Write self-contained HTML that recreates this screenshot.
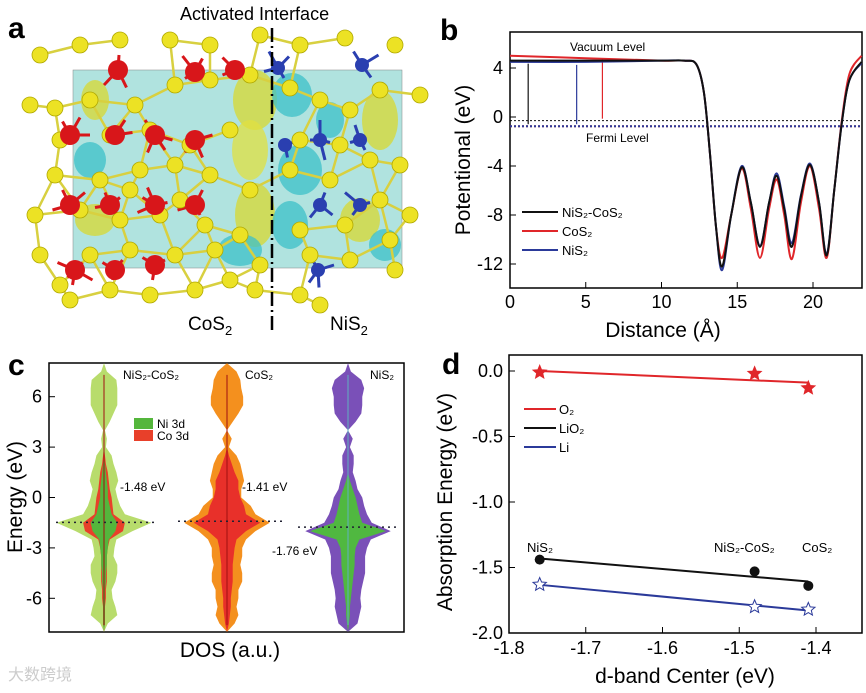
<!DOCTYPE html>
<html><head><meta charset="utf-8"><style>
body{margin:0;background:#fff;}
svg{display:block;font-family:"Liberation Sans","Noto Sans CJK SC",sans-serif;}
</style></head><body>
<svg id="fig" width="866" height="693" viewBox="0 0 866 693" xmlns="http://www.w3.org/2000/svg">
<g id="pa">
<text x="8" y="38" font-size="30" font-weight="bold">a</text>
<text x="180" y="20" font-size="18">Activated Interface</text>
<rect x="73" y="70" width="329" height="198" fill="#8fd8d2" opacity="0.7" stroke="#555" stroke-width="0.5"/>
<g id="blobs"></g>
<g id="bonds"></g>
<g id="atoms"></g>
<line x1="272" y1="28" x2="272" y2="330" stroke="#000" stroke-width="2.5" stroke-dasharray="14,4,2,4"/>
<text x="188" y="330" font-size="19">CoS<tspan font-size="13" dy="5">2</tspan></text>
<text x="330" y="330" font-size="19">NiS<tspan font-size="13" dy="5">2</tspan></text>
</g>
<g id="pb">
<text x="440" y="40" font-size="30" font-weight="bold">b</text>
</g>
<g id="pc">
<text x="8" y="375" font-size="30" font-weight="bold">c</text>
</g>
<g id="pd">
<text x="442" y="374" font-size="30" font-weight="bold">d</text>
</g>
<text x="8" y="680" font-size="16" fill="#ccc">大数跨境</text>
</svg>
<script>
const NS="http://www.w3.org/2000/svg";
function mk(parent,tag,attrs,text){const e=document.createElementNS(NS,tag);for(const k in attrs)e.setAttribute(k,attrs[k]);if(text!==undefined)e.textContent=text;parent.appendChild(e);return e;}

// ---------- Panel a atoms (decorative) ----------
const atomsG=document.getElementById('atoms');
const bondsG=document.getElementById('bonds');
const blobsG=document.getElementById('blobs');
const blobList=[[255,100,22,30,'#d8d830'],[292,95,20,22,'#3cc0c8'],[250,150,18,30,'#e0e040'],[300,170,22,25,'#3cc0c8'],[255,215,20,32,'#d8d830'],[290,225,18,24,'#3cc0c8'],[240,250,22,16,'#3cc0c8'],[380,120,18,30,'#d8d830'],[360,220,20,22,'#d8d830'],[95,100,14,20,'#d8d830'],[90,160,16,18,'#3cc0c8'],[95,220,20,16,'#d8d830'],[330,120,14,18,'#3cc0c8'],[385,245,16,16,'#3cc0c8']];
blobList.forEach(b=>{const e=mk(blobsG,'ellipse',{cx:b[0],cy:b[1],rx:b[2],ry:b[3],fill:b[4],opacity:0.75});

});
const yellowAtoms=[[40,55],[80,45],[120,40],[170,40],[210,45],[260,35],[300,45],[345,38],[395,45],[420,95],[30,105],[55,108],[90,100],[135,105],[175,85],[210,80],[250,75],[290,88],[320,100],[350,110],[380,90],[60,140],[110,135],[150,130],[190,145],[230,130],[300,140],[340,145],[370,160],[400,165],[55,175],[100,180],[140,170],[175,165],[210,175],[250,190],[290,170],[330,180],[380,200],[410,215],[35,215],[80,210],[120,220],[160,215],[205,225],[240,235],[300,230],[345,225],[390,240],[40,255],[90,255],[130,250],[175,255],[215,250],[260,265],[310,255],[350,260],[395,270],[60,285],[110,290],[150,295],[195,290],[255,290],[300,295],[320,305],[70,300],[230,280],[180,200],[130,190]];
for(let i=0;i<yellowAtoms.length;i++)for(let j=i+1;j<yellowAtoms.length;j++){const a=yellowAtoms[i],b=yellowAtoms[j];const d=Math.hypot(a[0]-b[0],a[1]-b[1]);if(d<46){mk(bondsG,'line',{x1:a[0],y1:a[1],x2:b[0],y2:b[1],stroke:'#d8d040','stroke-width':2.5});}}
const redAtoms=[[118,70],[195,72],[235,70],[70,135],[115,135],[155,135],[195,140],[70,205],[110,205],[155,205],[195,205],[75,270],[115,270],[155,265]];
const blueAtoms=[[278,68],[362,65],[285,145],[320,140],[360,140],[320,205],[360,205],[318,270]];
[[redAtoms,'#d8161a'],[blueAtoms,'#2a3fb0']].forEach(set=>set[0].forEach(a=>yellowAtoms.forEach(b=>{if(Math.hypot(a[0]-b[0],a[1]-b[1])<42)mk(bondsG,'line',{x1:a[0],y1:a[1],x2:(a[0]+b[0])/2,y2:(a[1]+b[1])/2,stroke:set[1],'stroke-width':3});})));
yellowAtoms.forEach(p=>{const c=mk(atomsG,'circle',{cx:p[0],cy:p[1],r:8,fill:'#ece224',stroke:'#b0a800','stroke-width':0.8});

});
redAtoms.forEach(p=>{const c=mk(atomsG,'circle',{cx:p[0],cy:p[1],r:10,fill:'#d8161a'});

});
blueAtoms.forEach(p=>{const c=mk(atomsG,'circle',{cx:p[0],cy:p[1],r:7,fill:'#2a3fb0'});

});

// ---------- Panel b data ----------
const bX=[0,5,10,11.5,12.3,12.8,13.2,13.6,14,14.6,15.3,15.9,16.5,17.1,17.6,18.1,18.6,19.2,19.8,20.4,20.9,21.4,21.9,22.4,23.2];
const bNiCo=[4.6,4.6,4.6,4.6,4.3,2,-3,-9,-12.2,-8,-4.1,-7,-10.6,-7,-4.8,-7.5,-10.6,-6.5,-3.9,-7,-11.3,-6,-0.5,3,4.5];
const bCo=[5,4.8,4.6,4.6,4.3,2,-3,-9,-11.5,-8,-4.2,-7.5,-11.5,-7.5,-5.1,-8,-11.6,-7,-4.0,-7.5,-11.5,-6,-0.3,3.5,5];
const bNi=[4.5,4.5,4.6,4.6,4.3,2,-3,-9,-12.5,-8,-4.0,-7,-10.5,-7,-4.6,-7.3,-10.3,-6.4,-3.8,-7,-11.2,-6,-0.5,3,4.4];
const bXTicks=[0,5,10,15,20];
const bYTicks=[4,0,-4,-8,-12];
const bFermi=[-0.3,-0.75,-0.75];
const bColors=['#111','#e0262a','#2b3a9a'];
const bx=v=>510+v*15.15;
const by=v=>117-v*12.25;
function smooth(pts){let d=`M${pts[0][0]},${pts[0][1]}`;for(let i=0;i<pts.length-1;i++){const p0=pts[i-1]||pts[i],p1=pts[i],p2=pts[i+1],p3=pts[i+2]||p2;
d+=` C${p1[0]+(p2[0]-p0[0])/6},${p1[1]+(p2[1]-p0[1])/6} ${p2[0]-(p3[0]-p1[0])/6},${p2[1]-(p3[1]-p1[1])/6} ${p2[0]},${p2[1]}`;}return d;}
(function(){
const g=document.getElementById('pb');
const frame=mk(g,'rect',{x:510,y:32,width:352,height:256,fill:'none',stroke:'#000','stroke-width':1.5});


bXTicks.forEach(t=>{mk(g,'line',{x1:bx(t),y1:288,x2:bx(t),y2:282,stroke:'#000'});
const tl=mk(g,'text',{x:bx(t),y:308,'font-size':18,'text-anchor':'middle'},t);

});
bYTicks.forEach(t=>{mk(g,'line',{x1:510,y1:by(t),x2:516,y2:by(t),stroke:'#000'});
const tl=mk(g,'text',{x:503,y:by(t)+6,'font-size':18,'text-anchor':'end'},t);

});
const xt=mk(g,'text',{x:663,y:337,'font-size':21,'text-anchor':'middle'},'Distance (Å)');


const yt=mk(g,'text',{x:470,y:160,'font-size':21,'text-anchor':'middle',transform:'rotate(-90 470 160)'},'Potentional (eV)');


bFermi.forEach((f,i)=>{const l=mk(g,'line',{x1:510,y1:by(f),x2:862,y2:by(f),stroke:bColors[i],'stroke-width':i==0?1:2,'stroke-dasharray':'2,2'});

});
const t1=mk(g,'text',{x:570,y:51,'font-size':12},'Vacuum Level');


const t2=mk(g,'text',{x:586,y:142,'font-size':12},'Fermi Level');


[[1.2,0],[4.4,2],[6.1,1]].forEach(a=>{const s=[bNiCo,bCo,bNi][a[1]];const x=bx(a[0]);
const l=mk(g,'line',{x1:x,y1:by(s[0])+3,x2:x,y2:by(bFermi[a[1]==1?0:1])-2,stroke:bColors[a[1]],'stroke-width':1.2});

});
[bCo,bNi,bNiCo].forEach((s,k)=>{const idx=[1,2,0][k];const pts=bX.map((x,i)=>[bx(x),by(s[i])]);
const p=mk(g,'path',{d:smooth(pts),fill:'none',stroke:bColors[idx],'stroke-width':2});

});
const names=['NiS₂-CoS₂','CoS₂','NiS₂'];
names.forEach((n,i)=>{const y=212+i*19;mk(g,'line',{x1:522,y1:y,x2:558,y2:y,stroke:bColors[i],'stroke-width':2});
const t=mk(g,'text',{x:562,y:y+5,'font-size':13},n);

});
})();

// ---------- Panel c data ----------
const cE=[-8,-7.5,-7,-6.5,-6,-5.5,-5,-4.5,-4,-3.5,-3,-2.5,-2,-1.5,-1,-0.5,0,0.5,1,1.5,2,2.5,3,3.5,4,4.5,5,5.5,6,6.5,7,7.5,8];
const cNiCoTotal=[0,4,14,12,9,8,12,14,14,10,11,13,30,50,22,17,14,12,15,13,10,8,2,3,1,6,10,14,14,14,13,3,0];
const cNiCoNi=[0,1,1,1,1,1,2,2,3,3,4,5,12,14,8,6,4,4,3,2,1,0,0,0,0,0,0,0,0,0,0,0,0];
const cNiCoCo=[0,1,1,1,2,2,3,3,3,3,4,6,20,22,10,9,8,6,5,4,2,1,0,0,0,0,0,0,0,0,0,0,0];
const cCoTotal=[0,8,12,10,12,12,16,16,14,16,16,20,30,45,30,25,15,15,18,16,14,10,2,5,0,6,12,17,17,15,14,10,0];
const cCoCo=[0,2,3,4,4,5,6,6,6,7,8,10,20,35,20,18,14,12,12,8,5,2,0,0,0,0,0,0,0,0,0,0,0];
const cNiTotal=[0,10,12,14,13,14,16,18,18,18,20,24,45,25,20,17,15,10,8,5,6,6,2,5,0,8,14,15,15,17,14,3,0];
const cNiNi=[0,1,2,2,3,4,5,6,7,7,8,12,40,15,12,10,8,5,2,0,0,0,0,0,0,0,0,0,0,0,0,0,0];
const cYTicks=[6,3,0,-3,-6];
const cDband=[-1.48,-1.41,-1.76];
const cy=v=>497.5-v*16.8;
function violin(g,cx,w,fill,name){let d='';cE.forEach((e,i)=>{d+=(i?'L':'M')+(cx+w[i]*0.95)+','+cy(e);});
for(let i=cE.length-1;i>=0;i--)d+='L'+(cx-w[i]*0.95)+','+cy(cE[i]);
const p=mk(g,'path',{d:d+'Z',fill:fill});

}
(function(){
const g=document.getElementById('pc');
const frame=mk(g,'rect',{x:49,y:363,width:355,height:269,fill:'none',stroke:'#000','stroke-width':1.5});


cYTicks.forEach(t=>{mk(g,'line',{x1:49,y1:cy(t),x2:55,y2:cy(t),stroke:'#000'});
const tl=mk(g,'text',{x:42,y:cy(t)+6,'font-size':18,'text-anchor':'end'},t);

});
const yt=mk(g,'text',{x:22,y:497,'font-size':21,'text-anchor':'middle',transform:'rotate(-90 22 497)'},'Energy (eV)');


const xt=mk(g,'text',{x:230,y:657,'font-size':21,'text-anchor':'middle'},'DOS (a.u.)');


violin(g,104,cNiCoTotal,'#b8dc6c','dos-nis2-cos2-total');
violin(g,104,cNiCoCo,'#e8402a','dos-nis2-cos2-co3d');
violin(g,104,cNiCoNi,'#54b63c','dos-nis2-cos2-ni3d');
violin(g,227,cCoTotal,'#f4901e','dos-cos2-total');
violin(g,227,cCoCo,'#e8302a','dos-cos2-co3d');
violin(g,348,cNiTotal,'#7a50b8','dos-nis2-total');
violin(g,348,cNiNi,'#50b840','dos-nis2-ni3d');
[[104,'#a01010'],[227,'#a01010'],[348,'#60b0c0']].forEach(c=>mk(g,'line',{x1:c[0],y1:cy(7.3),x2:c[0],y2:cy(-7.6),stroke:c[1],'stroke-width':1}));
[[56,156],[178,284],[298,398]].forEach((r,i)=>{const l=mk(g,'line',{x1:r[0],y1:cy(cDband[i]),x2:r[1],y2:cy(cDband[i]),stroke:'#223','stroke-width':1.5,'stroke-dasharray':'2,4'});

});
[[120,491],[242,491],[272,555]].forEach((p,i)=>{const t=mk(g,'text',{x:p[0],y:p[1],'font-size':12},cDband[i].toFixed(2)+' eV');

});
[['NiS₂-CoS₂',123],['CoS₂',245],['NiS₂',370]].forEach(a=>{const t=mk(g,'text',{x:a[1],y:379,'font-size':12},a[0]);

});
mk(g,'rect',{x:134,y:418,width:19,height:11,fill:'#54b63c'});
mk(g,'rect',{x:134,y:430,width:19,height:11,fill:'#e8402a'});
const l1=mk(g,'text',{x:157,y:428,'font-size':12},'Ni 3d');


const l2=mk(g,'text',{x:157,y:440,'font-size':12},'Co 3d');


})();

// ---------- Panel d data ----------
const dX=[-1.76,-1.48,-1.41];
const dO2=[-0.01,-0.02,-0.13];
const dLiO2=[-1.44,-1.53,-1.64];
const dLi=[-1.63,-1.80,-1.82];
const dXTicks=[-1.8,-1.7,-1.6,-1.5,-1.4];
const dYTicks=[0,-0.5,-1.0,-1.5,-2.0];
const dNames=['NiS₂','NiS₂-CoS₂','CoS₂'];
const dx=v=>509+(v+1.8)*767.5;
const dy=v=>371-v*131;
function fit(xs,ys){const n=xs.length,mx=xs.reduce((a,b)=>a+b)/n,my=ys.reduce((a,b)=>a+b)/n;let sxy=0,sxx=0;xs.forEach((x,i)=>{sxy+=(x-mx)*(ys[i]-my);sxx+=(x-mx)*(x-mx);});const m=sxy/sxx;return x=>my+m*(x-mx);}
function star(cx,c,r,fill,stroke){let d='';for(let i=0;i<10;i++){const a=-Math.PI/2+i*Math.PI/5,rr=i%2?r*0.45:r;d+=(i?'L':'M')+(cx[0]+rr*Math.cos(a))+','+(cx[1]+rr*Math.sin(a));}return {d:d+'Z',fill:fill,stroke:stroke};}
(function(){
const g=document.getElementById('pd');
const frame=mk(g,'rect',{x:509,y:355,width:353,height:278,fill:'none',stroke:'#000','stroke-width':1.5});


dXTicks.forEach(t=>{mk(g,'line',{x1:dx(t),y1:633,x2:dx(t),y2:627,stroke:'#000'});
const tl=mk(g,'text',{x:dx(t),y:654,'font-size':18,'text-anchor':'middle'},t.toFixed(1));

});
dYTicks.forEach(t=>{mk(g,'line',{x1:509,y1:dy(t),x2:515,y2:dy(t),stroke:'#000'});
const tl=mk(g,'text',{x:503,y:dy(t)+6,'font-size':18,'text-anchor':'end'},t.toFixed(1));

});
const xt=mk(g,'text',{x:685,y:683,'font-size':21,'text-anchor':'middle'},'d-band Center (eV)');


const yt=mk(g,'text',{x:452,y:502,'font-size':21,'text-anchor':'middle',transform:'rotate(-90 452 502)'},'Absorption Energy (eV)');


const series=[[dO2,'#e0262a','o2'],[dLiO2,'#111','lio2'],[dLi,'#2b3a9a','li']];
series.forEach(s=>{const f=fit(dX,s[0]);const l=mk(g,'line',{x1:dx(dX[0]),y1:dy(f(dX[0])),x2:dx(dX[2]),y2:dy(f(dX[2])),stroke:s[1],'stroke-width':2});


dX.forEach((x,i)=>{let m;
if(s[2]=='lio2'){m=mk(g,'circle',{cx:dx(x),cy:dy(s[0][i]),r:5,fill:'#111'});}
else{m=mk(g,'path',star([dx(x),dy(s[0][i])],0,7,s[2]=='o2'?'#e0262a':'#fff',s[1]));}

});});
[[-1.76,535],[-1.48,750],[-1.41,814]].forEach((a,i)=>{const t=mk(g,'text',{x:a[1]-(i==0?8:i==1?36:12),y:552,'font-size':13},dNames[i]);

});
['O₂','LiO₂','Li'].forEach((n,i)=>{const y=409+i*19;mk(g,'line',{x1:524,y1:y,x2:556,y2:y,stroke:series[i][1],'stroke-width':2});
const t=mk(g,'text',{x:559,y:y+5,'font-size':13},n);

});
})();
</script>
</body></html>
